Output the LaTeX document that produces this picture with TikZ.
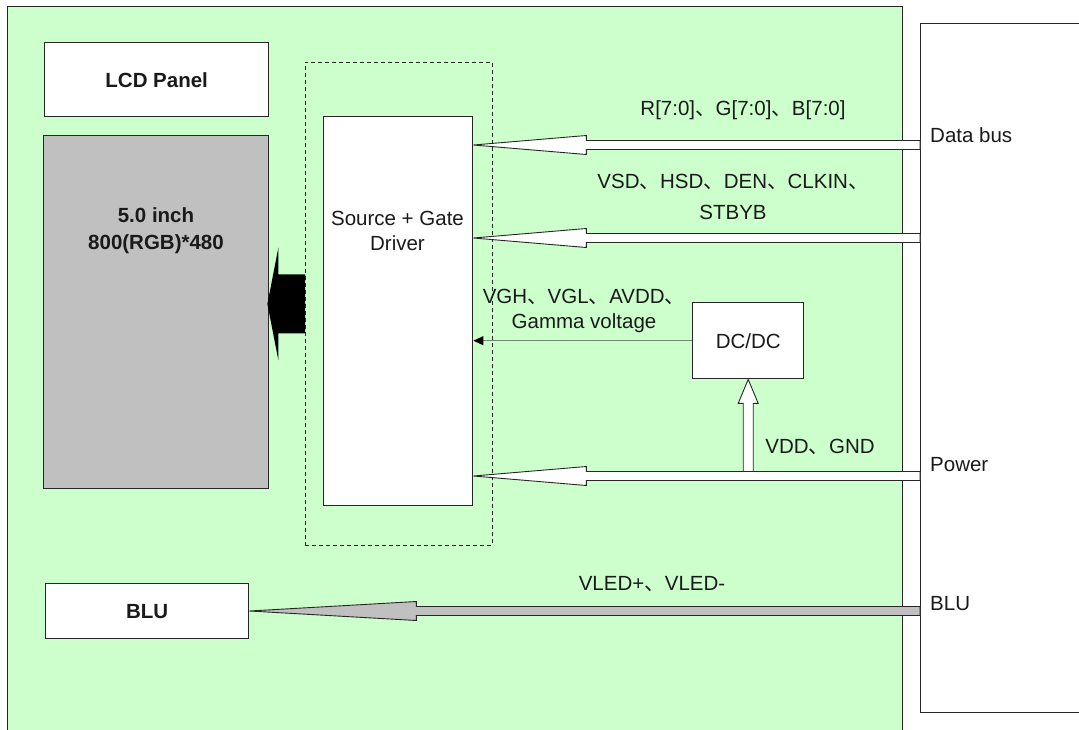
\documentclass[tikz,border=0pt]{standalone}
\usepackage{fontspec}
\setmainfont{Liberation Sans}
\newfontfamily\cjk{Noto Sans CJK SC}
\usepackage{xcolor}
\usepackage{tikz}
\usetikzlibrary{positioning,calc,arrows.meta}
\definecolor{modgreen}{HTML}{CCFFCC}
\definecolor{glass}{HTML}{C0C0C0}
\definecolor{edge}{HTML}{262626}
\definecolor{ink}{HTML}{1A1A1A}
\definecolor{wire}{HTML}{6E8A6E}

\newcommand{\dun}{{\cjk 、}}
% wide hollow bus arrow: [fill]{tip}{tail}{head length}
\newcommand{\busarrow}[4][white]{%
  \filldraw[busline, fill=#1] (#2) -- ($(#2)+(#4,-9.5)$) -- ($(#2)+(#4,-4.5)$)
    -- ($(#3)+(0,-4.5)$) -- ($(#3)+(0,4.5)$) -- ($(#2)+(#4,4.5)$)
    -- ($(#2)+(#4,9.5)$) -- cycle;}

\begin{document}
\begin{tikzpicture}[
  x=1pt, y=-1pt,
  box/.style={draw=edge, fill=white, line width=1.4pt, anchor=north west,
              inner sep=0pt, font=\fontsize{20.5}{25}\selectfont, text=ink},
  lbl/.style={font=\fontsize{20.5}{25}\selectfont, text=ink, align=center, inner sep=0pt},
  busline/.style={draw=edge, line width=0.9pt, line join=miter},
  thinwire/.style={-{Triangle[length=10pt,width=9pt,color=black]}, draw=wire, line width=1.2pt}
]
\clip (0,0) rectangle (1079,729);

% module outline and connector side
\node[box, fill=modgreen, minimum width=895pt, minimum height=740pt] (module) at (7,6) {};
\node[box, minimum width=180pt, minimum height=689pt] (rbox) at (920,23) {};

\node[box, minimum width=224pt, minimum height=74pt, font=\bfseries\fontsize{20.5}{25}\selectfont] (lcd) at (44,42) {LCD Panel};
\node[box, fill=glass, minimum width=225pt, minimum height=353pt] (panel) at (43,135) {};
\node[lbl, font=\bfseries\fontsize{20.5}{27}\selectfont] (paneltxt) at (156,231) {5.0 inch\\800(RGB)*480};

\node[box, fill=none, dashed, line width=0.9pt, dash pattern=on 4pt off 3pt, minimum width=187pt, minimum height=483pt] (dash) at (305,62) {};
\node[box, minimum width=149pt, minimum height=389pt] (drv) at (323,116) {};
\node[lbl] (drvtxt) at (397.5,231) {Source + Gate\\Driver};

\node[box, minimum width=111pt, minimum height=76pt] (dcdc) at (692,302) {DC/DC};
\node[box, minimum width=203pt, minimum height=55pt, font=\bfseries\fontsize{20.5}{25}\selectfont] (blu) at (45,583) {BLU};

% connector pins
\node[lbl, anchor=west] (pdata) at (930,135) {Data bus};
\node[lbl, anchor=west] (ppower) at (930,465) {Power};
\node[lbl, anchor=west] (pblu) at (930,604) {BLU};
\coordinate (databus) at ($(rbox.north west)+(0,122)$);
\coordinate (ctrlbus) at ($(rbox.north west)+(0,215)$);
\coordinate (powerbus) at ($(rbox.north west)+(0,453)$);
\coordinate (blubus) at ($(rbox.north west)+(0,588)$);
\coordinate (datatip) at (drv.east |- databus);
\coordinate (ctrltip) at (drv.east |- ctrlbus);
\coordinate (powertip) at (drv.east |- powerbus);
\coordinate (blutip) at (blu.east |- blubus);
\coordinate (vddfoot) at (dcdc.south |- powerbus);
\coordinate (paneltip) at ($(panel.east |- dash.west)+(-2,0)$);

% buses
\busarrow{datatip}{databus}{113}
\busarrow{ctrltip}{ctrlbus}{113}
\filldraw[busline, fill=white] (dcdc.south) -- ($(dcdc.south)+(-10,24)$) -- ($(dcdc.south)+(-5,24)$)
  -- ($(vddfoot)+(-5,0)$) -- ($(vddfoot)+(5,0)$) -- ($(dcdc.south)+(5,24)$)
  -- ($(dcdc.south)+(10,24)$) -- cycle;
\busarrow{powertip}{powerbus}{113}
\busarrow[glass]{blutip}{blubus}{167}
\draw[thinwire] (dcdc.west) -- (drv.east |- dcdc.west);
\fill[black] (paneltip) -- ($(paneltip)+(11,-56.5)$) -- ($(paneltip)+(11,-29.5)$)
  -- ($(dash.west)+(0,-29.5)$) -- ($(dash.west)+(0,29.5)$) -- ($(paneltip)+(11,29.5)$)
  -- ($(paneltip)+(11,56.5)$) -- cycle;

% bus labels
\node[lbl] (rgb) at (743,110) {R[7:0]\dun G[7:0]\dun B[7:0]};
\node[lbl] (ctrl) at (733,197) {VSD\dun HSD\dun DEN\dun CLKIN\dun\\[6pt]STBYB};
\node[lbl] (gamma) at (584,311) {VGH\dun VGL\dun AVDD\dun\\Gamma voltage};
\node[lbl] (vdd) at (820,447) {VDD\dun GND};
\node[lbl] (vled) at (652,584) {VLED+\dun VLED-};

\end{tikzpicture}
\end{document}
